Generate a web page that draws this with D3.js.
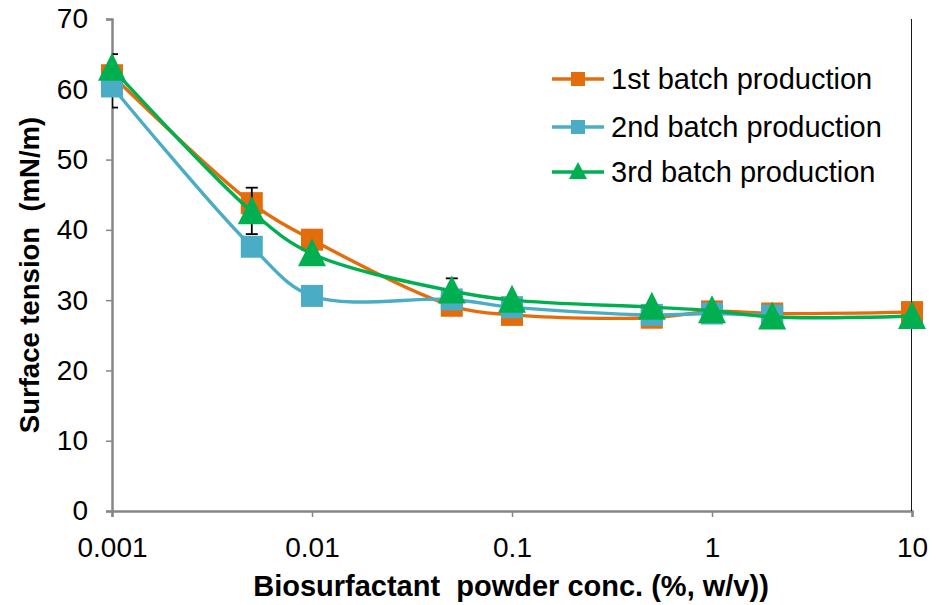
<!DOCTYPE html>
<html>
<head>
<meta charset="utf-8">
<script src="https://cdn.jsdelivr.net/npm/d3@7/dist/d3.min.js"></script>
<style>
  html, body { margin: 0; padding: 0; background: #fff; }
  svg { display: block; font-family: "Liberation Sans", Arial, sans-serif; }
  .title { white-space: pre; }
</style>
</head>
<body>
<svg id="chart" width="937" height="605"></svg>
<script>
// Concentrations (%, w/v) and surface tension (mN/m) for each batch
const conc1 = [0.001, 0.005, 0.01, 0.05, 0.1, 0.5, 1, 2, 10];
const batch1 = [62.0, 43.8, 38.6, 29.2, 27.9, 27.5, 28.4, 28.1, 28.3];

const conc2 = [0.001, 0.005, 0.01, 0.05, 0.1, 0.5, 1, 2];
const batch2 = [60.4, 37.6, 30.6, 30.1, 29.0, 27.9, 28.1, 27.8];

const conc3 = [0.001, 0.005, 0.01, 0.05, 0.1, 0.5, 1, 2, 10];
const batch3 = [63.0, 42.6, 36.6, 31.3, 30.0, 29.0, 28.5, 27.6, 27.7];

// Error bars (low / high bounds)
const errConc = [0.001, 0.005, 0.05, 10];
const errLow  = [57.4, 39.4, 30.0, -5];
const errHigh = [65.0, 46.0, 33.1, 75];

const yTicks = [0, 10, 20, 30, 40, 50, 60, 70];
const xTicks = [0.001, 0.01, 0.1, 1, 10];
const xTickLabels = ["0.001", "0.01", "0.1", "1", "10"];

const seriesNames = ["1st batch production", "2nd batch production", "3rd batch production"];
const colors = ["#E46C0A", "#4BACC6", "#00B050"];

const svg = d3.select("#chart");
const plotLeft = 112, plotRight = 912, plotTop = 19, plotBottom = 511;

const x = d3.scaleLog().domain([0.001, 10]).range([plotLeft, plotRight]);
const y = d3.scaleLinear().domain([0, 70]).range([plotBottom, plotTop]);

const axisColor = "#868686";
const tickFont = 28;

svg.append("defs").append("clipPath").attr("id", "plotClip")
  .append("rect").attr("x", plotLeft).attr("y", plotTop)
  .attr("width", plotRight - plotLeft).attr("height", plotBottom - plotTop);

// Y axis
const yAxis = svg.append("g").attr("transform", `translate(${plotLeft},0)`)
  .call(d3.axisLeft(y).tickValues(yTicks).tickSize(6).tickPadding(18).tickFormat(d3.format("d")));
yAxis.select(".domain").attr("stroke", axisColor).attr("stroke-width", 2.5);
yAxis.selectAll(".tick line").attr("stroke", axisColor).attr("stroke-width", 1.5);
yAxis.selectAll(".tick text").attr("font-size", tickFont).attr("fill", "#000")
  .attr("font-family", "Liberation Sans, Arial, sans-serif");

// X axis
const xAxis = svg.append("g").attr("transform", `translate(0,${plotBottom})`)
  .call(d3.axisBottom(x).tickValues(xTicks).tickSize(6).tickPadding(20)
    .tickFormat((d, i) => xTickLabels[i]));
xAxis.select(".domain").attr("stroke", axisColor).attr("stroke-width", 2.5);
xAxis.selectAll(".tick line").attr("stroke", axisColor).attr("stroke-width", 1.5);
xAxis.selectAll(".tick text").attr("font-size", tickFont).attr("fill", "#000")
  .attr("font-family", "Liberation Sans, Arial, sans-serif");

// Axis titles
svg.append("text").attr("class", "title")
  .attr("x", (plotLeft + plotRight) / 2 - 1).attr("y", 596)
  .attr("text-anchor", "middle").attr("font-weight", "bold").attr("font-size", 29)
  .text("Biosurfactant  powder conc. (%, w/v))");

svg.append("text").attr("class", "title")
  .attr("transform", `translate(39,275) rotate(-90)`)
  .attr("text-anchor", "middle").attr("font-weight", "bold").attr("font-size", 27.5)
  .text("Surface tension  (mN/m)");

const line = d3.line().x(d => x(d[0])).y(d => y(d[1])).curve(d3.curveCatmullRom.alpha(0.5));

const plot = svg.append("g");
const sq = 22;
const triW = 28, triH = 28;

function drawSeries(concs, vals, color, marker) {
  const pts = concs.map((c, i) => [c, vals[i]]);
  plot.append("path").datum(pts).attr("d", line)
    .attr("fill", "none").attr("stroke", color).attr("stroke-width", 3.4);
  if (marker === "square") {
    plot.selectAll(null).data(pts).enter().append("rect")
      .attr("x", d => x(d[0]) - sq / 2).attr("y", d => y(d[1]) - sq / 2)
      .attr("width", sq).attr("height", sq).attr("fill", color);
  } else {
    plot.selectAll(null).data(pts).enter().append("path")
      .attr("d", d => {
        const cx = x(d[0]), cy = y(d[1]);
        return `M${cx},${cy - triH * 0.55}L${cx + triW / 2},${cy + triH * 0.45}L${cx - triW / 2},${cy + triH * 0.45}Z`;
      })
      .attr("fill", color);
  }
}

function drawErrorBars() {
  const g = plot.append("g").attr("clip-path", "url(#plotClip)");
  errConc.forEach((c, i) => {
    const cx = x(c);
    g.append("line").attr("x1", cx).attr("x2", cx)
      .attr("y1", y(errLow[i])).attr("y2", y(errHigh[i]))
      .attr("stroke", "#000").attr("stroke-width", 1.8);
    [errLow[i], errHigh[i]].forEach(v => {
      g.append("line").attr("x1", cx - 6).attr("x2", cx + 6)
        .attr("y1", y(v)).attr("y2", y(v))
        .attr("stroke", "#000").attr("stroke-width", 1.8);
    });
  });
}

drawSeries(conc1, batch1, colors[0], "square");
drawErrorBars();
drawSeries(conc2, batch2, colors[1], "square");
drawSeries(conc3, batch3, colors[2], "triangle");

// Legend
const legend = svg.append("g");
const legendY = [79, 127, 172];
seriesNames.forEach((name, i) => {
  const ly = legendY[i];
  legend.append("line").attr("x1", 552).attr("x2", 604).attr("y1", ly).attr("y2", ly)
    .attr("stroke", colors[i]).attr("stroke-width", 3.4);
  if (i < 2) {
    legend.append("rect").attr("x", 578 - 7).attr("y", ly - 7).attr("width", 14).attr("height", 14)
      .attr("fill", colors[i]);
  } else {
    legend.append("path")
      .attr("d", `M578,${ly - 10}L587,${ly + 7}L569,${ly + 7}Z`).attr("fill", colors[i]);
  }
  legend.append("text").attr("x", 611).attr("y", ly + 10)
    .attr("font-size", 29).attr("fill", "#000").text(name);
});
</script>
</body>
</html>
